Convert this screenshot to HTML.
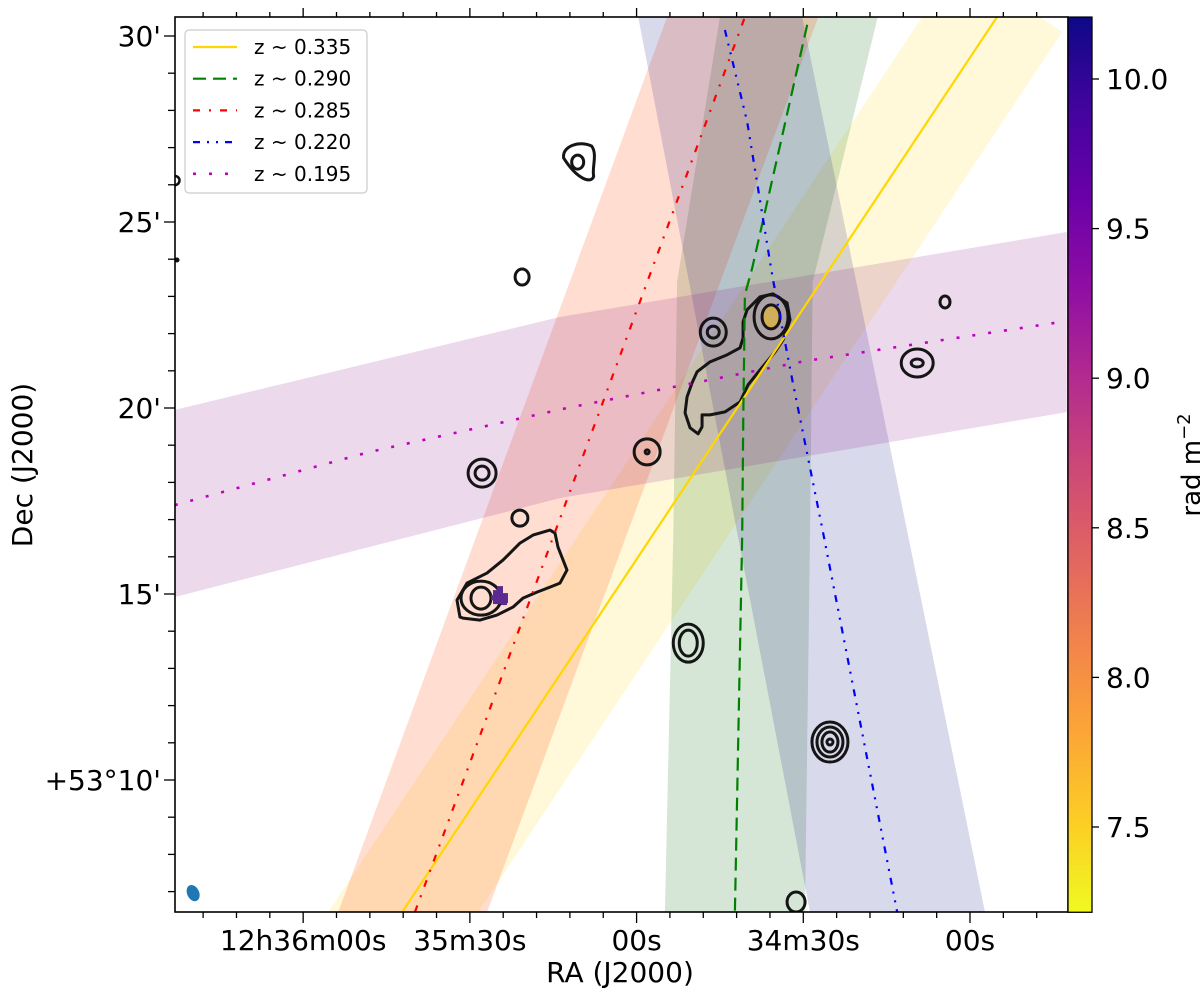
<!DOCTYPE html>
<html><head><meta charset="utf-8"><style>
html,body{margin:0;padding:0;background:#fff;}
svg{display:block;font-family:"DejaVu Sans","Liberation Sans",sans-serif;}
</style></head><body>
<svg id="fig" width="1200" height="993" viewBox="0 0 1200 993" xmlns="http://www.w3.org/2000/svg">
<defs>
<clipPath id="plotclip"><rect x="175" y="17" width="893" height="895"/></clipPath>
<linearGradient id="plasmaR" x1="0" y1="0" x2="0" y2="1">
<stop offset="0" stop-color="#0d0887"/><stop offset="0.1" stop-color="#41049d"/><stop offset="0.2" stop-color="#6a00a8"/><stop offset="0.3" stop-color="#8f0da4"/><stop offset="0.4" stop-color="#b12a90"/><stop offset="0.5" stop-color="#cc4778"/><stop offset="0.6" stop-color="#e16462"/><stop offset="0.7" stop-color="#f2844b"/><stop offset="0.8" stop-color="#fca636"/><stop offset="0.9" stop-color="#fcce25"/><stop offset="1" stop-color="#f0f921"/>
</linearGradient>
</defs>
<g id="bands" clip-path="url(#plotclip)"></g>
<g id="contours" clip-path="url(#plotclip)"></g>
<g id="lines" clip-path="url(#plotclip)"></g>
<rect x="175" y="17" width="893" height="895" fill="none" stroke="#000" stroke-width="1.6"/>
<g id="axes"></g>
<g id="legend"></g>
<g id="cbar"></g>
<text x="620" y="982" font-size="28" text-anchor="middle">RA (J2000)</text>
<text x="0" y="0" font-size="28" text-anchor="middle" transform="translate(32,465) rotate(-90)">Dec (J2000)</text>
</svg>
<script>
// ---- data (RA: seconds after 12h34m00s; Dec: arcmin above +53°) ----
const raMajorSec = [120, 90, 60, 30, 0];
const raMajorLabels = ['12h36m00s', '35m30s', '00s', '34m30s', '00s'];
const decMajor = [30, 25, 20, 15, 10];
const decMajorLabels = ["30'", "25'", "20'", "15'", "+53°10'"];
const cbarTicks = [10.0, 9.5, 9.0, 8.5, 8.0, 7.5];
const cbarMin = 7.215, cbarMax = 10.207;
const redshifts = ['z ~ 0.335', 'z ~ 0.290', 'z ~ 0.285', 'z ~ 0.220', 'z ~ 0.195'];
const lineRA = [
  [102.2, -4.86],
  [29.3, 34.7, 39.2, 40.5, 40.8, 41.0, 42.3],
  [99.9, 40.5],
  [44.1, 40.1, 35.5, 31.9, 26.6, 13.1],
  [143.1, 108, 72.5, 29.7, -16.2]
];
const lineDec = [
  [6.45, 30.51],
  [30.30, 26.72, 23.76, 23.04, 19.81, 16.59, 6.45],
  [6.45, 30.51],
  [30.16, 27.69, 23.49, 20.70, 16.77, 6.45],
  [17.39, 18.82, 20.0, 21.26, 22.31]
];
const bandRA = [
  [8.6, -12.6, -16.6, 88.5, 115.5],
  [45.0, 16.6, 28.3, 28.8, 29.7, 54.9, 53.4, 52.7],
  [54.5, 27.3, 86.9, 113.7],
  [59.7, 30.2, -2.7, 28.8],
  [143.1, 73.7, -17.4, -17.4, 73.7, 143.1]
];
const bandDec = [
  [30.51, 30.51, 30.11, 6.45, 6.45],
  [30.51, 30.51, 23.39, 16.59, 6.45, 6.45, 16.59, 23.39],
  [30.51, 30.51, 6.45, 6.45],
  [30.51, 30.51, 6.45, 6.45],
  [19.95, 22.45, 24.73, 19.89, 17.58, 14.92]
];
const srcRA  = [70.6, 80.6, 4.5, 35.8, 46.2, 9.5, 87.8, 58.1, 81.0, 88.0, 50.7, 25.2, 31.3];
const srcDec = [26.61, 23.52, 22.85, 22.45, 22.04, 21.21, 18.25, 18.82, 17.04, 14.89, 13.68, 11.02, 6.72];
const beamRA = 139.8, beamDec = 6.96;

// ---- styles ----
const lineColors = ['#ffd700', '#008000', '#ff0000', '#0000ff', '#bf00bf'];
const lineDash = ['', '13 7', '7 9 2 9', '7 7 2 7 2 7', '3 13'];
const bandFill = ['rgba(255,215,0,0.15)', 'rgba(0,100,0,0.16)', 'rgba(255,69,0,0.18)', 'rgba(0,0,128,0.15)', 'rgba(128,0,128,0.15)'];

// ---- scales ----
const X = s => 970 - s * 5.557;
const Y = d => 36 + (30 - d) * 37.2;
const CY = v => 79 + (10 - v) * 299.2;
const NS = 'http://www.w3.org/2000/svg';
function mk(tag, attrs, parent) {
  const e = document.createElementNS(NS, tag);
  for (const k in attrs) e.setAttribute(k, attrs[k]);
  parent.appendChild(e);
  return e;
}

// bands
const gB = document.getElementById('bands');
bandRA.forEach((ras, i) => {
  const pts = ras.map((r, j) => X(r).toFixed(1) + ',' + Y(bandDec[i][j]).toFixed(1)).join(' ');
  const p = mk('polygon', {points: pts, fill: bandFill[i]}, gB);
  
  
});

// contours
const gC = document.getElementById('contours');
const cs = {fill: 'none', stroke: '#151515', 'stroke-width': 3};
function ell(cx, cy, rx, ry, extra) {
  const e = mk('ellipse', Object.assign({cx: cx, cy: cy, rx: rx, ry: ry}, cs, extra || {}), gC);
  
  
  return e;
}
const ringSets = [
  [[9, 9]],
  [[7, 8]],
  [[5, 6]],
  [[17, 22], [9, 12]],
  [[13, 14], [6, 6]],
  [[16, 14], [6, 4]],
  [[14, 14], [7, 7]],
  [[13, 13], [2, 2]],
  [[8, 8]],
  [[20, 17], [10, 11]],
  [[15, 19], [9, 13]],
  [[18, 20], [13, 15], [8, 10], [3, 3]],
  [[9, 10]]
];
srcRA.forEach((r, i) => {
  const cx = X(r), cy = Y(srcDec[i]);
  if (i === 3) {
    mk('ellipse', {cx: cx - 1, cy: cy, rx: 9, ry: 12, fill: 'rgba(215,175,80,0.9)'}, gC);
  }
  if (i === 0) {
    const p = mk('path', Object.assign({d: `M${cx-14},${cy-4} C${cx-16},${cy-16} ${cx+2},${cy-22} ${cx+14},${cy-16} C${cx+20},${cy-8} ${cx+14},${cy+6} ${cx+16},${cy+14} C${cx+14},${cy+22} ${cx},${cy+18} ${cx-14},${cy-4} Z`}, cs), gC);
    
    
    ell(cx, cy, 6, 7);
    return;
  }
  ringSets[i].forEach(rr => ell(cx, cy, rr[0], rr[1]));
});
(function () {
  const cx = X(srcRA[3]), cy = Y(srcDec[3]);
  const off = [[-24,-7],[-11,-20],[2,-23],[16,-14],[19,3],[12,23],[4,35],[-11,53],[-23,68],[-31,85],[-46,95],[-61,98],[-69,98],[-69,110],[-73,117],[-81,111],[-86,96],[-84,80],[-79,66],[-74,55],[-61,45],[-44,38],[-31,31],[-28,21],[-28,5]];
  const d = 'M' + off.map(o => (cx + o[0]) + ',' + (cy + o[1])).join(' L') + ' Z';
  const p = mk('path', Object.assign({d: d, 'stroke-linejoin': 'round'}, cs), gC);
  
  
})();
(function () {
  const cx = X(srcRA[9]), cy = Y(srcDec[9]);
  const off = [[-21,19],[-24,2],[-14,-15],[6,-25],[22,-38],[39,-55],[52,-63],[69,-68],[74,-65],[77,-51],[86,-28],[79,-15],[69,-11],[56,-6],[42,0],[32,9],[16,17],[-1,22],[-18,20]];
  const d = 'M' + off.map(o => (cx + o[0]) + ',' + (cy + o[1])).join(' L') + ' Z';
  const p = mk('path', Object.assign({d: d, 'stroke-linejoin': 'round'}, cs), gC);
  
  
  const px = [[12,-8,10,14],[16,-12,6,5],[22,-5,5,10],[10,-3,14,5],[20,3,6,4]];
  px.forEach(q => {
    const r = mk('rect', {x: cx + q[0], y: cy + q[1], width: q[2], height: q[3], fill: '#5a2a92'}, gC);
    
    
  });
})();
mk('path', {d: 'M175,176 a4,4 0 0 1 0,9', fill: 'none', stroke: '#111', 'stroke-width': 2.5}, gC);
mk('circle', {cx: 177, cy: 260, r: 2.5, fill: '#111'}, gC);
const beam = mk('ellipse', {cx: X(beamRA), cy: Y(beamDec), rx: 6, ry: 8.5, fill: '#1f77b4', transform: `rotate(-25 ${X(beamRA)} ${Y(beamDec)})`}, gC);



// lines
const gL = document.getElementById('lines');
lineRA.forEach((ras, i) => {
  const pts = ras.map((r, j) => X(r).toFixed(1) + ',' + Y(lineDec[i][j]).toFixed(1)).join(' ');
  const attrs = {points: pts, fill: 'none', stroke: lineColors[i], 'stroke-width': i === 4 ? 2.6 : 2.2};
  if (lineDash[i]) attrs['stroke-dasharray'] = lineDash[i];
  const pl = mk('polyline', attrs, gL);
  
  
});

// axes ticks
const gA = document.getElementById('axes');
for (let s = 144; s >= -18; s -= 6) {
  const x = X(s);
  if (x < 176 || x > 1067) continue;
  const major = raMajorSec.indexOf(s) >= 0;
  const L = major ? 11 : 6;
  mk('line', {x1: x, y1: 912, x2: x, y2: 912 + L, stroke: '#000', 'stroke-width': 1.3}, gA);
  mk('line', {x1: x, y1: 17, x2: x, y2: 17 - (major ? 9 : 5), stroke: '#000', 'stroke-width': 1.3}, gA);
}
raMajorSec.forEach((s, i) => {
  const t = mk('text', {x: X(s), y: 950, 'font-size': 28, 'text-anchor': 'middle'}, gA);
  t.textContent = raMajorLabels[i];
  
  
});
for (let d = 31; d >= 6; d--) {
  const y = Y(d);
  if (y < 18 || y > 911) continue;
  const major = decMajor.indexOf(d) >= 0;
  mk('line', {x1: 175, y1: y, x2: 175 - (major ? 11 : 7), y2: y, stroke: '#000', 'stroke-width': 1.3}, gA);
}
decMajor.forEach((d, i) => {
  const t = mk('text', {x: 161, y: Y(d) + 10, 'font-size': 28, 'text-anchor': 'end'}, gA);
  t.textContent = decMajorLabels[i];
  
  
});

// legend
const gLeg = document.getElementById('legend');
mk('rect', {x: 185, y: 30, width: 182, height: 163, rx: 4, fill: 'rgba(255,255,255,0.85)', stroke: '#ccc', 'stroke-width': 1.2}, gLeg);
redshifts.forEach((z, i) => {
  const y = 47 + i * 31.7;
  const a = {x1: 193, y1: y, x2: 237, y2: y, stroke: lineColors[i], 'stroke-width': i === 4 ? 2.6 : 2.2};
  if (lineDash[i]) a['stroke-dasharray'] = lineDash[i];
  const ln = mk('line', a, gLeg);
  
  
  const t = mk('text', {x: 254, y: y + 7, 'font-size': 20}, gLeg);
  t.textContent = z;
  
  
});

// colorbar
const gCb = document.getElementById('cbar');
mk('rect', {x: 1068, y: CY(cbarMax), width: 24, height: CY(cbarMin) - CY(cbarMax), fill: 'url(#plasmaR)', stroke: '#000', 'stroke-width': 1.3}, gCb);
cbarTicks.forEach(v => {
  const y = CY(v);
  mk('line', {x1: 1092, y1: y, x2: 1099, y2: y, stroke: '#000', 'stroke-width': 1.3}, gCb);
  const t = mk('text', {x: 1106, y: y + 10, 'font-size': 28}, gCb);
  t.textContent = v.toFixed(1);
  
  
});
const cl = mk('text', {x: 0, y: 0, 'font-size': 26, 'text-anchor': 'middle', transform: 'translate(1200,465) rotate(-90)'}, gCb);
cl.innerHTML = 'rad m<tspan dy="-10" font-size="18">−2</tspan>';


</script>
</body></html>
